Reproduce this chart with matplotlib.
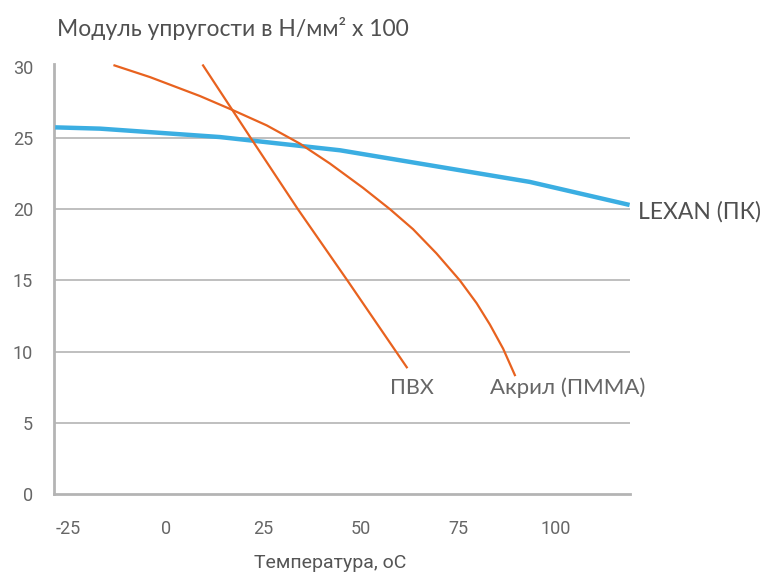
import matplotlib
matplotlib.use("Agg")
import matplotlib.pyplot as plt

plt.rcParams["axes.unicode_minus"] = False

# Data
lexan_t = [-28.3, -16.8, 13.9, 44.7, 67.7, 93.3, 118.9]
lexan_v = [25.75, 25.66, 25.07, 24.14, 23.09, 21.92, 20.3]

acryl_t = [-13.1, -4.0, 8.8, 17.3, 25.9, 34.4, 42.1, 50.6, 57.5, 63.4, 69.4,
           75.4, 79.7, 83.1, 86.5, 89.5]
acryl_v = [30.1, 29.28, 27.95, 26.95, 25.89, 24.61, 23.21, 21.5, 20.0, 18.6,
           16.9, 15.0, 13.4, 11.9, 10.2, 8.35]

pvc_t = [9.6, 21.7, 33.9, 46.7, 59.3, 61.8]
pvc_v = [30.1, 25.05, 20.0, 14.95, 9.9, 8.9]

xticks = [-25, 0, 25, 50, 75, 100]
yticks = [0, 5, 10, 15, 20, 25, 30]

title = "Модуль упругости в Н/мм² x 100"
xlabel = "Температура, оС"
lab_lexan = "LEXAN (ПК)"
lab_pvc = "ПВХ"
lab_acryl = "Акрил (ПММА)"

narrow = ["Liberation Sans Narrow", "Roboto", "DejaVu Sans"]
geo = ["Lato", "DejaVu Sans"]

fig = plt.figure(figsize=(7.67, 5.75), dpi=100)
ax = fig.add_axes([54/767, 1-494/575, (630-54)/767, (494-64)/575])
ax.set_xlim(-28.6, 119.0)
ax.set_ylim(0, 30.2)

orange = "#E8621F"
blue = "#3BAEE2"
ax.plot(lexan_t, lexan_v, color=blue, lw=3.2, solid_capstyle="butt",
        solid_joinstyle="round", zorder=3)
ax.plot(acryl_t, acryl_v, color=orange, lw=1.6, solid_joinstyle="round", zorder=4)
ax.plot(pvc_t, pvc_v, color=orange, lw=1.6, zorder=4)

for y in yticks[1:-1]:
    ax.axhline(y, color="#B4B4B4", lw=1.2, zorder=1)

for s in ["top", "right"]:
    ax.spines[s].set_visible(False)
for s in ["left", "bottom"]:
    ax.spines[s].set_color("#B4B4B4")
    ax.spines[s].set_linewidth(2)

ax.set_xticks(xticks)
ax.set_yticks(yticks)
ax.tick_params(length=0, colors="#666666", labelsize=13)
ax.tick_params(axis="x", pad=19)
ax.tick_params(axis="y", pad=15)
for lab in ax.get_xticklabels() + ax.get_yticklabels():
    lab.set_family(narrow)
    lab.set_color("#666666")

fig.text(57/767, 1-28/575, title, family=geo, fontsize=16.5, color="#505050",
         va="center", ha="left")
fig.text(330/767, 1-563/575, xlabel, family=narrow, fontsize=14, color="#555555",
         va="center", ha="center")

ax.annotate(lab_lexan, xy=(638, 575-212), xycoords="figure pixels", family=geo,
            fontsize=16.5, color="#505050", va="center", ha="left")
ax.annotate(lab_pvc, xy=(412, 575-388), xycoords="figure pixels", family=geo,
            fontsize=15.5, color="#666666", va="center", ha="center")
ax.annotate(lab_acryl, xy=(490, 575-388), xycoords="figure pixels", family=geo,
            fontsize=16, color="#666666", va="center", ha="left")

fig.savefig("out.png", dpi=100)
